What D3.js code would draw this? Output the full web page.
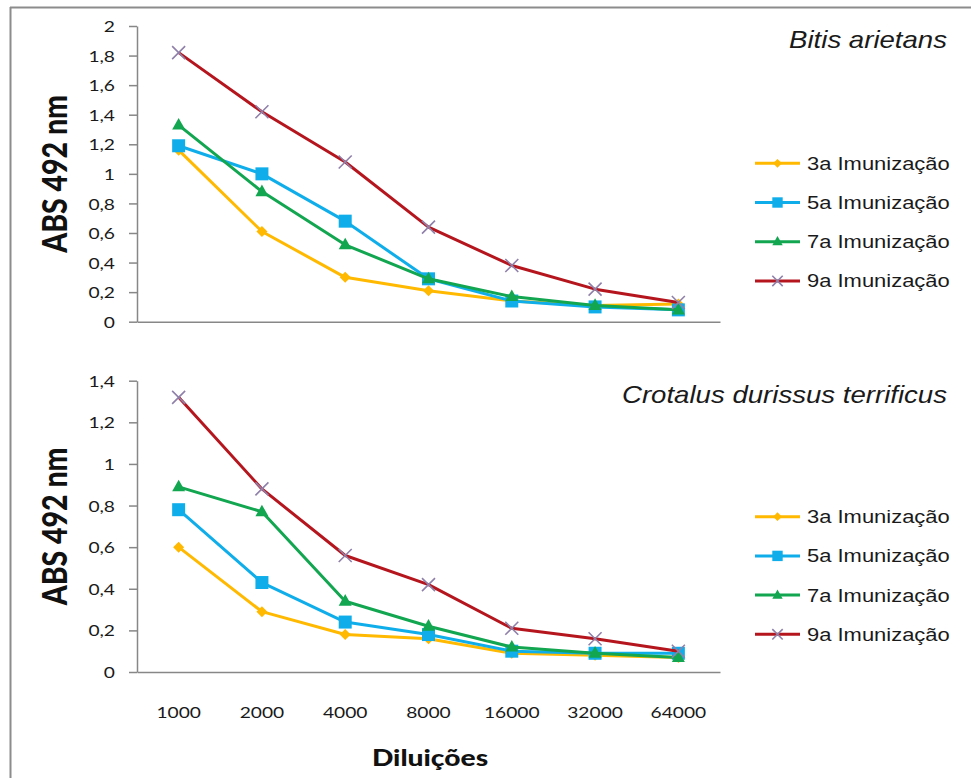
<!DOCTYPE html>
<html>
<head>
<meta charset="utf-8">
<script src="https://cdn.jsdelivr.net/npm/d3@7"></script>
<style>
  html, body { margin: 0; padding: 0; background: #fff; }
  svg { display: block; }
</style>
</head>
<body>
<svg id="chart" width="971" height="778"></svg>
<script>
// Dilution categories shared by both panels
const dilutions = ["1000", "2000", "4000", "8000", "16000", "32000", "64000"];
const seriesNames = ["3a Imunização", "5a Imunização", "7a Imunização", "9a Imunização"];

// Bitis arietans – absorbance at 492 nm
const bitis3 = [1.16, 0.61, 0.30, 0.21, 0.14, 0.11, 0.12];
const bitis5 = [1.19, 1.00, 0.68, 0.29, 0.14, 0.10, 0.08];
const bitis7 = [1.33, 0.88, 0.52, 0.29, 0.17, 0.11, 0.08];
const bitis9 = [1.82, 1.42, 1.08, 0.64, 0.38, 0.22, 0.13];

// Crotalus durissus terrificus – absorbance at 492 nm
const crot3 = [0.60, 0.29, 0.18, 0.16, 0.09, 0.08, 0.07];
const crot5 = [0.78, 0.43, 0.24, 0.18, 0.10, 0.09, 0.09];
const crot7 = [0.89, 0.77, 0.34, 0.22, 0.12, 0.09, 0.07];
const crot9 = [1.32, 0.88, 0.56, 0.42, 0.21, 0.16, 0.10];

// Y tick values for each panel
const bitisTicks = [0, 0.2, 0.4, 0.6, 0.8, 1, 1.2, 1.4, 1.6, 1.8, 2];
const crotTicks = [0, 0.2, 0.4, 0.6, 0.8, 1, 1.2, 1.4];

const colors = ["#FFB900", "#0FAEEA", "#12A650", "#B5161E"];
const markers = ["diamond", "square", "triangle", "cross"];
const SX = 1.2; // horizontal text stretch
const axisColor = "#878787";
const fmt = v => d3.format("~g")(v).replace(".", ",");

const svg = d3.select("#chart");

// frame lines
svg.append("line").attr("x1", 10).attr("x2", 971).attr("y1", 7.5).attr("y2", 7.5)
  .attr("stroke", "#8c8c8c").attr("stroke-width", 2);
svg.append("line").attr("x1", 10.5).attr("x2", 10.5).attr("y1", 7).attr("y2", 778)
  .attr("stroke", "#8c8c8c").attr("stroke-width", 2);

function markerPath(type, s) {
  switch (type) {
    case "diamond": return `M0,${-s}L${s},0L0,${s}L${-s},0Z`;
    case "square": return `M${-s},${-s}H${s}V${s}H${-s}Z`;
    case "triangle": return `M0,${-s * 1.1}L${s},${s * 0.7}L${-s},${s * 0.7}Z`;
    default: return `M${-s},${-s}L${s},${s}M${-s},${s}L${s},${-s}`;
  }
}
const markerSize = { diamond: 5.5, square: 6.5, triangle: 6.5, cross: 6.5 };

function drawMarker(g, type, color, x, y, scale = 1) {
  const s = markerSize[type] * scale;
  const p = g.append("path").attr("d", markerPath(type, s))
    .attr("transform", `translate(${x},${y})`);
  if (type === "cross") {
    p.attr("fill", "none").attr("stroke", "#8F80AA").attr("stroke-width", 1.6);
  } else {
    p.attr("fill", color);
  }
}

function panel(opts) {
  const { top, bottom, yMax, ticks, series, title, titleY, legendY, showX } = opts;
  const x = d3.scaleBand().domain(dilutions).range([137, 720]);
  const y = d3.scaleLinear().domain([0, yMax]).range([bottom, top]);
  const g = svg.append("g");

  // y axis
  const yAxis = g.append("g").attr("transform", "translate(137,0)")
    .call(d3.axisLeft(y).tickValues(ticks).tickFormat(fmt).tickSize(8).tickSizeOuter(0));
  yAxis.select(".domain").attr("stroke", axisColor).attr("stroke-width", 1.5);
  yAxis.selectAll(".tick line").attr("stroke", axisColor).attr("stroke-width", 1.5);
  yAxis.selectAll(".tick text")
    .attr("x", 0).attr("dy", "0.35em")
    .attr("transform", `translate(-22,0) scale(${SX},1)`)
    .attr("fill", "#1a1a1a").attr("font-family", "Lato").attr("font-size", 16)
    .attr("text-anchor", "end");

  // x axis
  const xAxis = g.append("g").attr("transform", `translate(0,${bottom})`)
    .call(d3.axisBottom(x).tickSize(0).tickSizeOuter(0));
  xAxis.select(".domain").attr("stroke", axisColor).attr("stroke-width", 1.5);
  if (showX) {
    xAxis.selectAll(".tick text")
      .attr("y", 0).attr("dy", "0.35em")
      .attr("transform", `translate(0,40) scale(${SX},1)`)
      .attr("fill", "#1a1a1a").attr("font-family", "Lato").attr("font-size", 16);
  } else {
    xAxis.selectAll(".tick text").remove();
  }

  // y title
  g.append("text")
    .attr("transform", `translate(55,${(top + bottom) / 2}) scale(${SX},1) rotate(-90)`)
    .attr("dy", "0.36em")
    .attr("text-anchor", "middle")
    .attr("font-family", "Lato").attr("font-weight", 900).attr("font-size", 28.5)
    .attr("fill", "#111")
    .text("ABS 492 nm");

  // panel title
  g.append("text")
    .attr("transform", `translate(947,${titleY}) scale(${SX},1)`)
    .attr("text-anchor", "end")
    .attr("font-family", "Liberation Sans").attr("font-style", "italic").attr("font-size", 23)
    .attr("fill", "#1a1a1a")
    .text(title);

  // series lines + markers
  const line = d3.line().x((d, i) => x(dilutions[i]) + x.bandwidth() / 2).y(d => y(d));
  series.forEach((vals, k) => {
    g.append("path").datum(vals).attr("d", line)
      .attr("fill", "none").attr("stroke", colors[k]).attr("stroke-width", 3)
      .attr("stroke-linejoin", "round");
    vals.forEach((v, i) => {
      drawMarker(g, markers[k], colors[k], x(dilutions[i]) + x.bandwidth() / 2, y(v));
    });
  });

  // legend
  seriesNames.forEach((name, k) => {
    const ly = legendY + k * 39.2;
    g.append("line").attr("x1", 755).attr("x2", 800).attr("y1", ly).attr("y2", ly)
      .attr("stroke", colors[k]).attr("stroke-width", 3);
    drawMarker(g, markers[k], colors[k], 777.5, ly, 0.8);
    g.append("text")
      .attr("transform", `translate(807,${ly}) scale(${SX},1)`)
      .attr("dy", "0.36em")
      .attr("font-family", "Liberation Sans").attr("font-size", 18.3)
      .attr("fill", "#1a1a1a")
      .text(name);
  });
}

panel({
  top: 26, bottom: 321.7, yMax: 2, ticks: bitisTicks,
  series: [bitis3, bitis5, bitis7, bitis9],
  title: "Bitis arietans", titleY: 48, legendY: 163.3, showX: false
});

panel({
  top: 380.7, bottom: 672, yMax: 1.4, ticks: crotTicks,
  series: [crot3, crot5, crot7, crot9],
  title: "Crotalus durissus terrificus", titleY: 403, legendY: 516.7, showX: true
});

// shared x title
svg.append("text")
  .attr("transform", `translate(430,758) scale(${SX},1)`)
  .attr("dy", "0.36em")
  .attr("text-anchor", "middle")
  .attr("font-family", "Lato").attr("font-weight", 900).attr("font-size", 23.5)
  .attr("fill", "#111")
  .text("Diluições");
</script>
</body>
</html>
